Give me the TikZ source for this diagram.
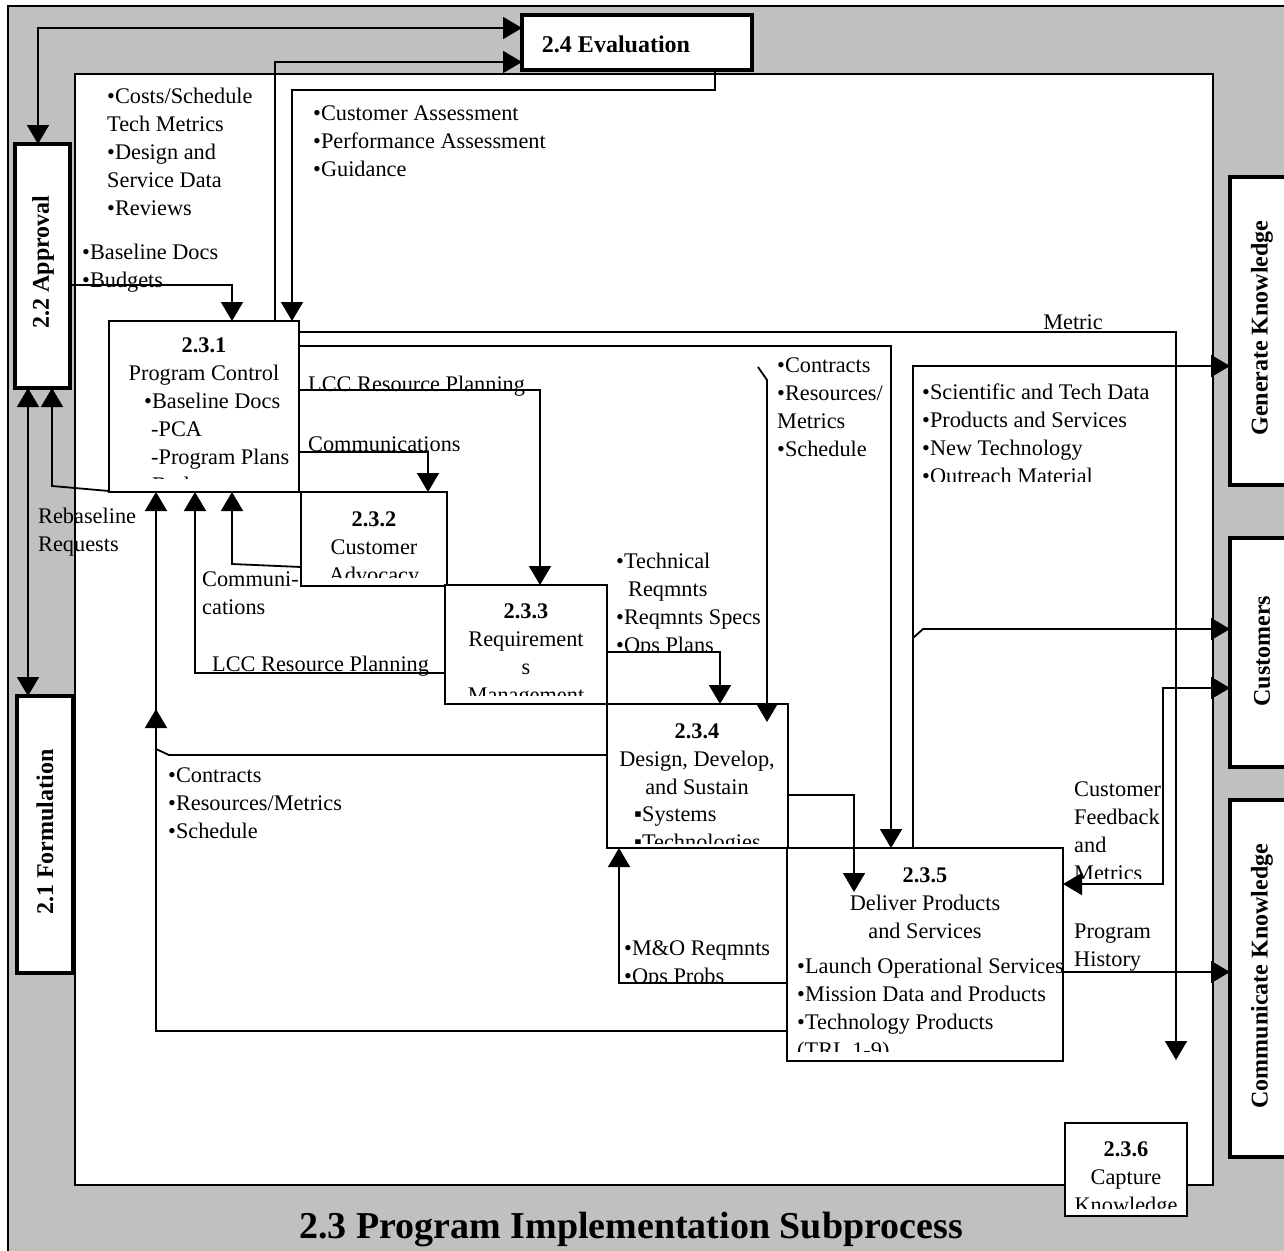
\documentclass[tikz,border=0pt]{standalone}
\usepackage{fontspec}
\setmainfont{Liberation Serif}
\usetikzlibrary{arrows.meta}
\definecolor{framegray}{RGB}{192,192,192}
\tikzset{
  proc/.style={draw, line width=1.8pt, fill=white, inner sep=0pt, outer sep=0pt},
  ext/.style={draw, line width=3.6pt, fill=white, inner sep=0pt, outer sep=0pt},
  txt/.style={font=\fontsize{22.3}{28}\selectfont, inner sep=0pt, align=left, anchor=north west, yshift=14pt, execute at begin node=\strut},
  ctxt/.style={txt, align=center, anchor=north},
  extlbl/.style={font=\fontsize{24}{28}\selectfont\bfseries, inner sep=0pt},
  flow/.style={line width=1.8pt, -{Triangle[length=19pt,width=22pt]}},
  bothflow/.style={line width=1.8pt, {Triangle[length=19pt,width=22pt]}-{Triangle[length=19pt,width=22pt]}},
}
\begin{document}
\begin{tikzpicture}[x=1pt,y=-1pt]
\useasboundingbox (0,0) rectangle (1284,1250);
\begin{scope}
\clip (0,0) rectangle (1284,1250);
\draw[line width=1.8pt, fill=framegray] (8,6) rectangle (1300,1270);
\end{scope}
\draw[line width=1.8pt, fill=white] (75,74) rectangle (1213,1185);

\node[ext, minimum width=230pt, minimum height=55pt] (eval) at (637,42.5) {};
\node[ext, minimum width=55pt, minimum height=244pt] (approval) at (42.5,266) {};
\node[ext, minimum width=56pt, minimum height=277pt] (formul) at (45,834.5) {};
\node[ext, minimum width=64pt, minimum height=308pt] (genk) at (1262,331) {};
\node[ext, minimum width=64pt, minimum height=229pt] (cust) at (1262,652.5) {};
\node[ext, minimum width=64pt, minimum height=357pt] (commk) at (1262,978.5) {};
\node[extlbl, anchor=base] (evaltxt) at (616,52) {2.4 Evaluation};
\node[extlbl, rotate=90] (approvaltxt) at (43,262) {2.2 Approval};
\node[extlbl, rotate=90] (formultxt) at (45,832) {2.1 Formulation};
\node[extlbl, rotate=90] (genktxt) at (1262,328) {Generate Knowledge};
\node[extlbl, rotate=90] (custtxt) at (1262,651) {Customers};
\node[extlbl, rotate=90] (commktxt) at (1262,976) {Communicate Knowledge};

\node[proc, minimum width=190pt, minimum height=171pt] (p231) at (204,406.5) {};
\node[proc, minimum width=146pt, minimum height=94pt] (p232) at (374,539) {};
\node[proc, minimum width=162pt, minimum height=119pt] (p233) at (526,644.5) {};
\node[proc, minimum width=181pt, minimum height=144pt] (p234) at (697.5,776) {};
\node[proc, minimum width=276pt, minimum height=213pt] (p235) at (925,954.5) {};
\node[proc, minimum width=122pt, minimum height=93pt] (p236) at (1126,1169.5) {};

\coordinate (joinB) at (156,709);
\coordinate (ctop) at (758,367);
\coordinate (cbot) at (767,722);
\coordinate (metricend) at (1176,1060);
\coordinate (dtip) at (854,892);
\coordinate (cbranch) at (913,638);

\draw[flow] (approval.east |- 0,285) -| (p231.north -| 232,0);
\draw[flow] (eval.south -| 715,0) -- ++(0,20) -| (p231.north -| 292,0);
\draw[flow] (p231.north -| 275,0) |- (eval.west |- 0,62);
\draw[bothflow] (approval.north -| 38,0) |- (eval.west |- 0,28);
\draw[bothflow] (approval.south -| 28,0) -- (formul.north -| 28,0);
\draw[flow] (p231.west |- 0,491) -- (52,486) -- (approval.south -| 52,0);
\draw[flow] (p231.east |- 0,390) -| (p233.north -| 540,0);
\draw[flow] (p231.east |- 0,452) -| (p232.north -| 428,0);
\draw[flow] (p232.west |- 0,567) -- (232,564) -- (p231.south -| 232,0);
\draw[flow] (p233.west |- 0,673) -| (p231.south -| 195,0);
\draw[flow] (p234.west |- 0,755) -- (169,755) -- (156,749) -- (p231.south -| 156,0);
\draw[flow] (p235.west |- 0,1031) -| (joinB);
\draw[flow] (p233.east |- 0,652) -| (p234.north -| 720,0);
\draw[flow] (ctop) -- (767,380) -- (cbot);
\draw[flow] (p231.east |- 0,346) -| (p235.north -| 891,0);
\draw[flow] (p231.east |- 0,332) -| (metricend);
\draw[flow] (p234.east |- 0,795) -| (dtip);
\draw[flow] (p235.west |- 0,983) -| (p234.south -| 619,0);
\draw[flow] (p235.north -| 913,0) |- (genk.west |- 0,366);
\draw[flow] (cbranch) -- (923,629) -- (cust.west |- 0,629);
\draw[bothflow] (p235.east |- 0,884) -| (1163,688) -- (cust.west |- 0,688);
\draw[flow] (p235.east |- 0,972) -- (commk.west |- 0,972);

\begin{scope}
\clip (109,321) rectangle (299,478);
\node[ctxt] (p231head) at (204,352) {\textbf{2.3.1}\\Program Control};
\node[txt] (p231list) at (144,407) {•Baseline Docs\\\hspace*{7pt}-PCA\\\hspace*{7pt}-Program Plans\\•Budgets};
\end{scope}
\begin{scope}
\clip (301,492) rectangle (447,577);
\node[ctxt] (p232head) at (374,526) {\textbf{2.3.2}\\Customer\\Advocacy};
\end{scope}
\begin{scope}
\clip (445,585) rectangle (607,695);
\node[ctxt] (p233head) at (526,618) {\textbf{2.3.3}\\Requirement\\s\\Management};
\end{scope}
\begin{scope}
\clip (607,704) rectangle (788,843);
\node[ctxt] (p234head) at (697,738) {\textbf{2.3.4}\\Design, Develop,\\and Sustain};
\node[txt] (p234list) at (634,821) {▪Systems\\▪Technologies};
\end{scope}
\begin{scope}
\clip (787,848) rectangle (1080,1051);
\node[ctxt] (p235head) at (925,882) {\textbf{2.3.5}\\Deliver Products\\and Services};
\node[txt] (p235list) at (797,972) {•Launch Operational Services\\•Mission Data and Products\\•Technology Products\\(TRL 1-9)};
\end{scope}
\begin{scope}
\clip (1065,1123) rectangle (1187,1208);
\node[ctxt] (p236head) at (1126,1156) {\textbf{2.3.6}\\Capture\\Knowledge};
\end{scope}

\node[txt] (costs) at (107,102) {•Costs/Schedule\\Tech Metrics\\•Design and\\Service Data\\•Reviews};
\node[txt] (baseline) at (82,258) {•Baseline Docs\\•Budgets};
\node[txt] (assess) at (313,120) {•Customer Assessment\\•Performance Assessment\\•Guidance};
\node[txt] (lccup) at (308,386) {LCC Resource Planning};
\node[txt] (commup) at (308,446) {Communications};
\node[txt] (rebase) at (38,522) {Rebaseline\\Requests};
\node[txt] (commlow) at (202,586) {Communi-\\cations};
\node[txt] (lcclow) at (212,666) {LCC Resource Planning};
\node[txt] (contrlow) at (168,782) {•Contracts\\•Resources/Metrics\\•Schedule};
\node[txt] (history) at (1074,938) {Program\\History};
\node[txt, anchor=north] (metric) at (1073,324) {Metric};
\begin{scope}
\clip (770,340) rectangle (890,456);
\node[txt] (contrup) at (777,372) {•Contracts\\•Resources/\\Metrics\\•Schedule};
\end{scope}
\begin{scope}
\clip (915,370) rectangle (1170,481);
\node[txt] (science) at (922,398) {•Scientific and Tech Data\\•Products and Services\\•New Technology\\•Outreach Material};
\end{scope}
\begin{scope}
\clip (610,540) rectangle (790,650);
\node[txt] (techreq) at (616,567) {•Technical\\\hspace*{12pt}Reqmnts\\•Reqmnts Specs\\•Ops Plans};
\end{scope}
\begin{scope}
\clip (620,930) rectangle (785,982);
\node[txt] (mando) at (624,954) {•M\&O Reqmnts\\•Ops Probs};
\end{scope}
\begin{scope}
\clip (1070,770) rectangle (1175,878);
\node[txt] (feedback) at (1074,796) {Customer\\Feedback\\and\\Metrics};
\end{scope}

\node[font=\fontsize{38}{44}\selectfont\bfseries, anchor=base, inner sep=0pt] (title) at (631,1238) {2.3 Program Implementation Subprocess};
\end{tikzpicture}
\end{document}
